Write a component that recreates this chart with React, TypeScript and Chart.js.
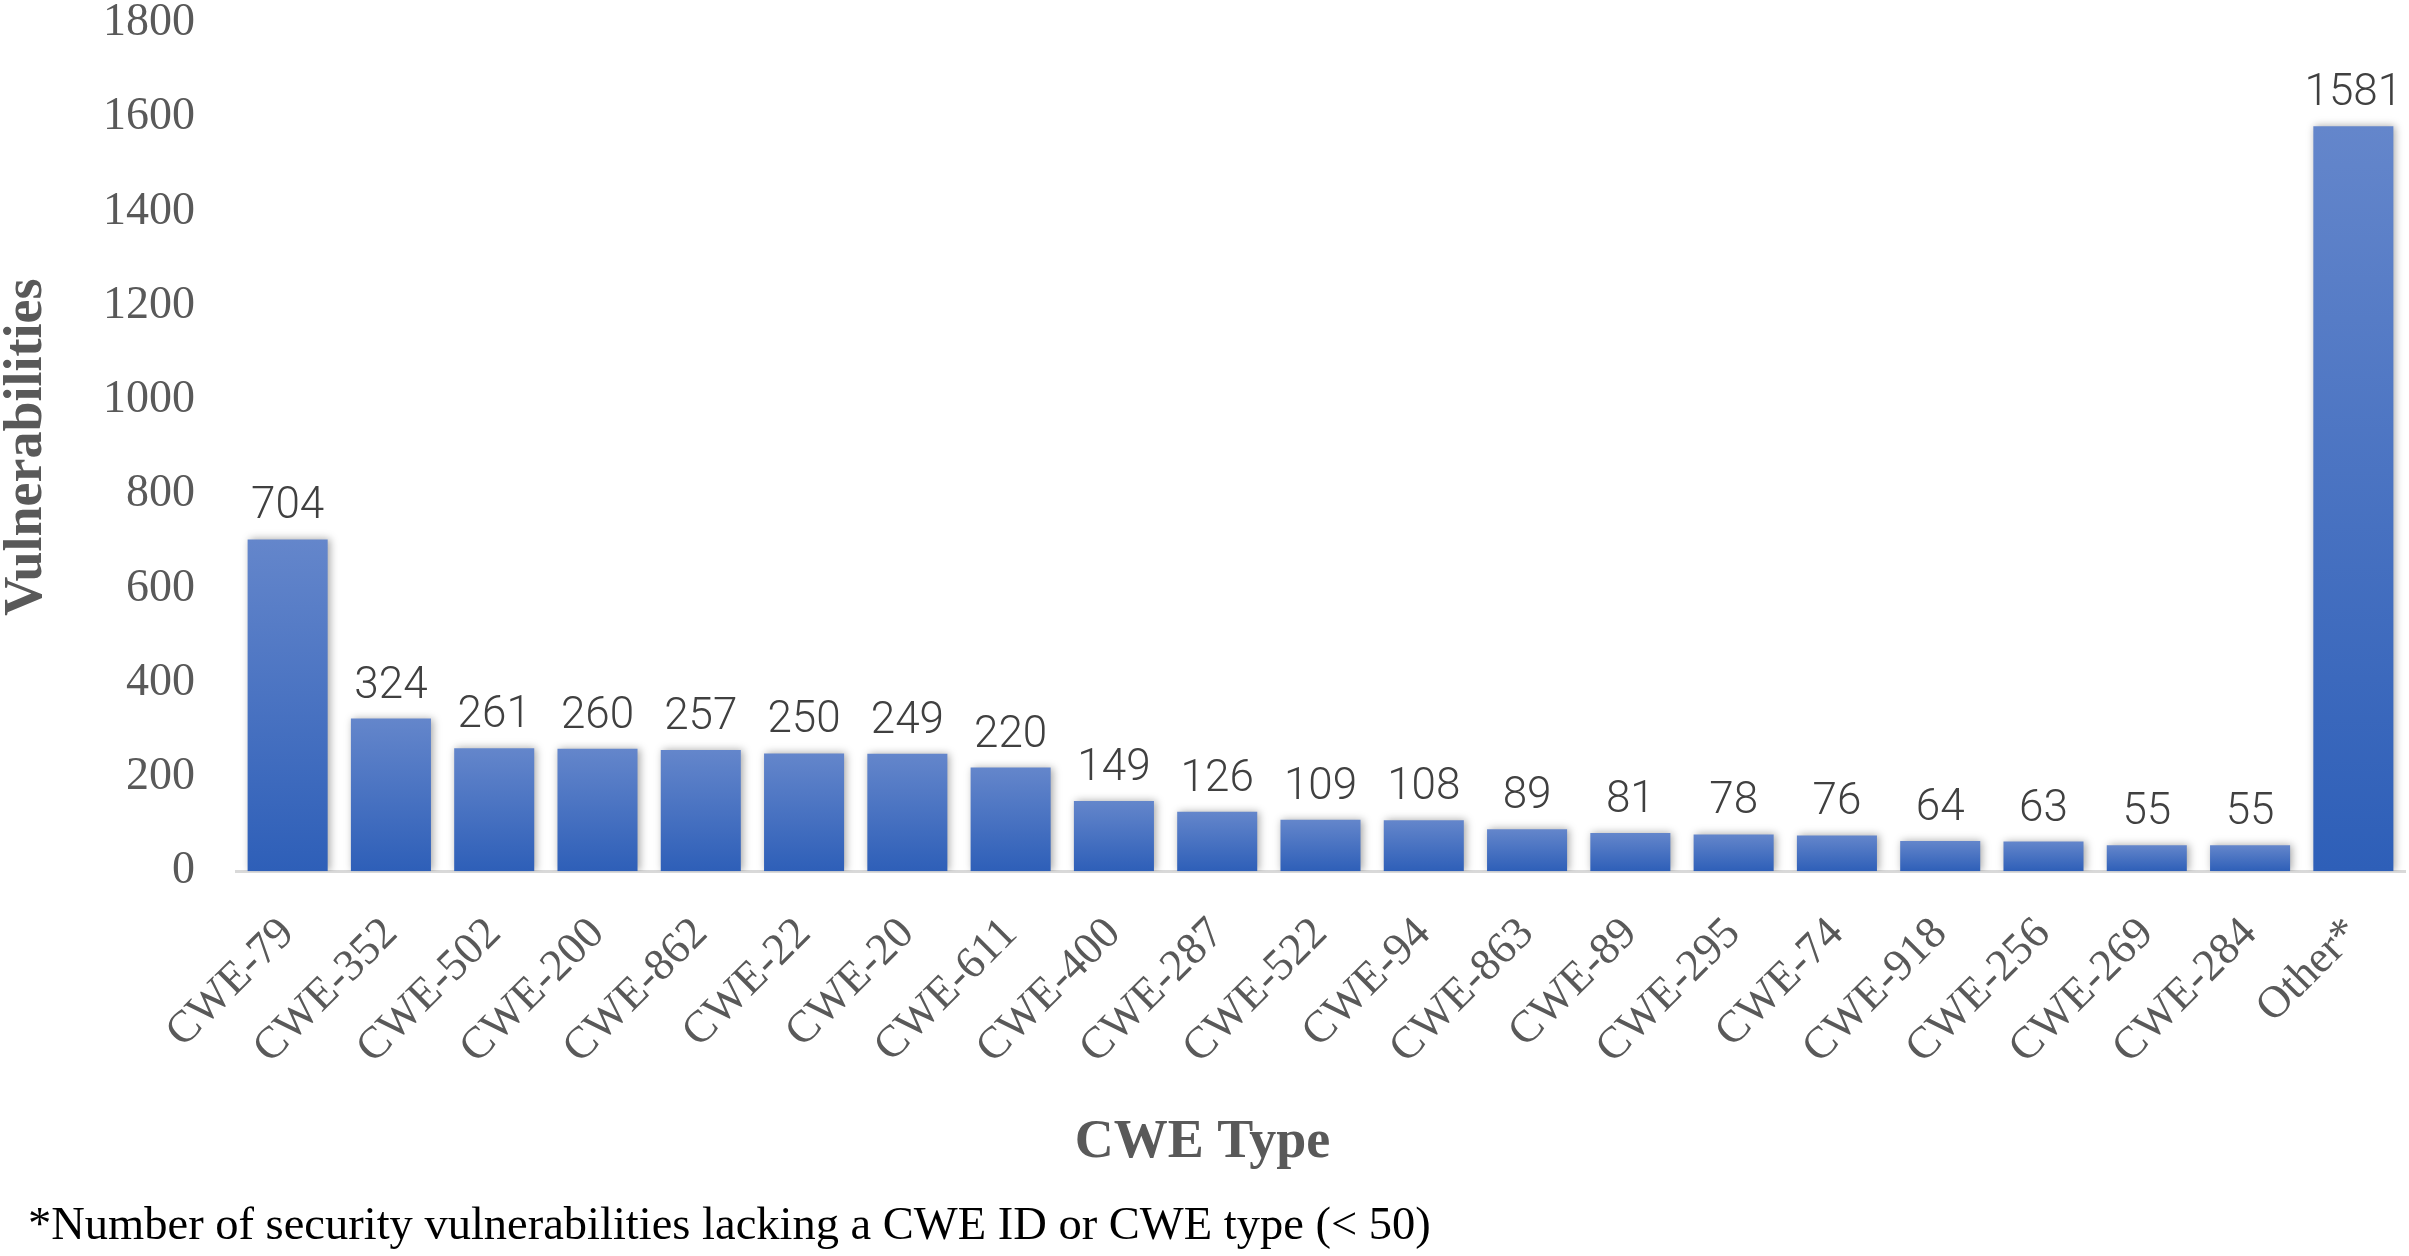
import React, { useEffect, useRef } from "react";
import { Chart, registerables } from "chart.js";

Chart.register(...registerables);

const categories = [
  "CWE-79", "CWE-352", "CWE-502", "CWE-200", "CWE-862", "CWE-22", "CWE-20",
  "CWE-611", "CWE-400", "CWE-287", "CWE-522", "CWE-94", "CWE-863", "CWE-89",
  "CWE-295", "CWE-74", "CWE-918", "CWE-256", "CWE-269", "CWE-284", "Other*",
];
const vulnerabilities = [
  704, 324, 261, 260, 257, 250, 249, 220, 149, 126, 109, 108, 89, 81, 78, 76, 64, 63, 55, 55, 1581,
];
const yMin = 0;
const yMax = 1800;
const yStep = 200;
const yTitle = "Vulnerabilities";
const xTitle = "CWE Type";
const footnote = "*Number of security vulnerabilities lacking a CWE ID or CWE type (< 50)";

const W = 2409;
const H = 1256;
const SERIF = '"Liberation Serif", "Times New Roman", serif';

const shadowPlugin = {
  id: "barShadow",
  beforeDatasetsDraw(chart: any) {
    const ctx = chart.ctx;
    ctx.save();
    ctx.shadowColor = "rgba(0,0,0,0.35)";
    ctx.shadowBlur = 8;
    ctx.shadowOffsetX = 2;
    ctx.shadowOffsetY = 0;
  },
  afterDatasetsDraw(chart: any) {
    chart.ctx.restore();
  },
};

const labelPlugin = {
  id: "valueLabels",
  afterDatasetsDraw(chart: any) {
    const ctx = chart.ctx;
    const meta = chart.getDatasetMeta(0);
    const data = chart.data.datasets[0].data;
    ctx.save();
    ctx.font = '300 44px Roboto, "Liberation Sans", sans-serif';
    ctx.fillStyle = "#404040";
    ctx.textAlign = "center";
    ctx.textBaseline = "alphabetic";
    meta.data.forEach((bar: any, i: number) => {
      ctx.fillText(String(data[i]), bar.x, bar.y - 21);
    });
    ctx.restore();
  },
};

const footnotePlugin = {
  id: "footnote",
  afterDraw(chart: any) {
    const ctx = chart.ctx;
    ctx.save();
    ctx.font = "46.5px " + SERIF;
    ctx.fillStyle = "#000000";
    ctx.textAlign = "left";
    ctx.textBaseline = "middle";
    ctx.fillText(footnote, 28, chart.height - 29);
    ctx.restore();
  },
};

export default function App() {
  const canvasRef = useRef<HTMLCanvasElement | null>(null);

  useEffect(() => {
    document.body.style.margin = "0";
    const canvas = canvasRef.current;
    if (!canvas) return;
    const chart = new Chart(canvas, {
      type: "bar",
      data: {
        labels: categories,
        datasets: [
          {
            label: yTitle,
            data: vulnerabilities,
            backgroundColor: (c: any) => {
              const ch = c.chart;
              if (!ch.chartArea || c.type !== "data" || !ch.scales.y) return "#4472C4";
              const y = ch.scales.y;
              const top = y.getPixelForValue(c.raw);
              const bottom = y.getPixelForValue(0);
              const g = ch.ctx.createLinearGradient(0, top, 0, bottom);
              g.addColorStop(0, "#6486CB");
              g.addColorStop(1, "#2E5FB8");
              return g;
            },
            borderWidth: 0,
            barPercentage: 0.775,
            categoryPercentage: 1,
          },
        ],
      },
      options: {
        responsive: false,
        animation: false,
        devicePixelRatio: 1,
        layout: { padding: { left: 0, right: 4, top: 0, bottom: 70 } },
        plugins: {
          legend: { display: false },
          tooltip: { enabled: false },
          title: {
            display: true,
            text: xTitle,
            position: "bottom",
            color: "#595959",
            font: { family: SERIF, size: 54, weight: "bold", lineHeight: 1.2 },
            padding: { top: 11, bottom: 11 },
          },
        },
        scales: {
          x: {
            grid: { display: false, drawTicks: false },
            border: { display: true, color: "#D9D9D9", width: 3 },
            ticks: {
              color: "#595959",
              font: { family: SERIF, size: 45, lineHeight: 1.8 },
              minRotation: 45,
              maxRotation: 45,
              autoSkip: false,
              padding: 27,
            },
            afterFit: (scale: any) => {
              scale.height = 228;
              scale.paddingLeft = 0;
              scale.paddingRight = 0;
            },
          },
          y: {
            min: yMin,
            max: yMax,
            grid: { display: false, drawTicks: false },
            border: { display: false },
            ticks: {
              stepSize: yStep,
              color: "#595959",
              font: { family: SERIF, size: 46, lineHeight: 1 },
              padding: 41,
              callback: (v: any) => String(v),
            },
            title: {
              display: true,
              text: yTitle,
              color: "#595959",
              font: { family: SERIF, size: 54, weight: "bold", lineHeight: 1 },
              padding: { top: 0, bottom: 0 },
            },
            afterFit: (scale: any) => {
              scale.width = 236;
              scale.paddingTop = 23;
              scale.paddingBottom = 23;
            },
          },
        },
      },
      plugins: [shadowPlugin, labelPlugin, footnotePlugin],
    });
    return () => chart.destroy();
  }, []);

  return (
    <div style={{ width: W, height: H, background: "#ffffff" }}>
      <canvas ref={canvasRef} width={W} height={H} style={{ display: "block", width: W, height: H }} />
    </div>
  );
}
